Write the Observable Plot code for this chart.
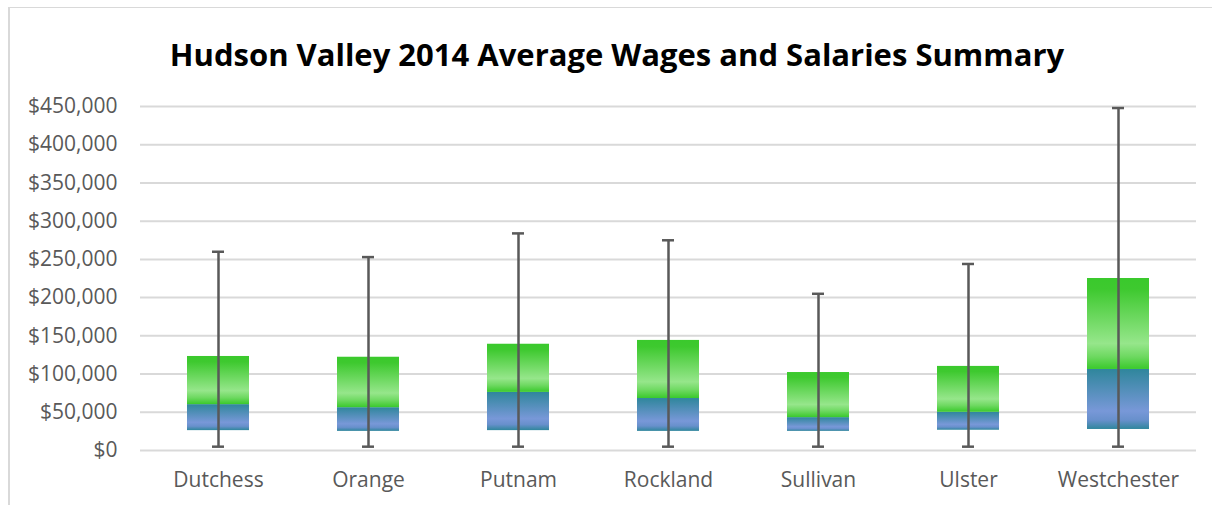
<!DOCTYPE html>
<html>
<head>
<meta charset="utf-8">
<script src="https://cdn.jsdelivr.net/npm/d3@7"></script>
<script src="https://cdn.jsdelivr.net/npm/@observablehq/plot@0.6"></script>
<style>
  html, body { margin: 0; padding: 0; background: #fff; }
  #wrap { position: relative; width: 1212px; height: 505px; overflow: hidden; }
  #border { position: absolute; left: 8px; top: 7px; width: 1300px; height: 600px;
            border-left: 2px solid #d9d9d9; border-top: 1px solid #d9d9d9; }
  #title { position: absolute; left: 0; top: 0; width: 1234px; height: 90px; line-height: 108px;
           text-align: center; font-family: "Open Sans", sans-serif; font-weight: 700; font-size: 31px; color: #000; }
  #chart { position: absolute; left: 0; top: 90px; }
</style>
</head>
<body>
<div id="wrap">
  <div id="border"></div>
  <div id="title">Hudson Valley 2014 Average Wages and Salaries Summary</div>
  <div id="chart"></div>
</div>
<script>
const counties = ["Dutchess", "Orange", "Putnam", "Rockland", "Sullivan", "Ulster", "Westchester"];
const minWage  = [5000, 5000, 5000, 5000, 5000, 5000, 5000];
const q1Wage   = [26000, 25000, 26000, 25000, 25000, 26500, 27500];
const medWage  = [60000, 56000, 76000, 68000, 43000, 50000, 106000];
const q3Wage   = [123000, 122000, 139000, 144000, 102000, 110000, 225000];
const maxWage  = [260000, 253000, 284000, 275000, 205000, 244000, 448000];
const yTicks   = [0, 50000, 100000, 150000, 200000, 250000, 300000, 350000, 400000, 450000];

const rows = counties.map((c, i) => ({
  county: c, min: minWage[i], q1: q1Wage[i], med: medWage[i], q3: q3Wage[i], max: maxWage[i]
}));

function gradientDefs() {
  const defs = d3.create("svg:defs");
  const g = defs.append("linearGradient").attr("id", "gGreen")
    .attr("x1", 0).attr("y1", 0).attr("x2", 0).attr("y2", 1);
  [[0, "#3ac92c"], [0.12, "#3ec92f"], [0.72, "#96e68b"], [0.86, "#6fd962"], [1, "#3ac92c"]]
    .forEach(([o, c]) => g.append("stop").attr("offset", o).attr("stop-color", c));
  const b = defs.append("linearGradient").attr("id", "gBlue")
    .attr("x1", 0).attr("y1", 0).attr("x2", 0).attr("y2", 1);
  [[0, "#2f869c"], [0.7, "#7898d8"], [0.85, "#6890cc"], [1, "#2f869c"]]
    .forEach(([o, c]) => b.append("stop").attr("offset", o).attr("stop-color", c));
  return defs.node();
}

const chart = Plot.plot({
  width: 1212,
  height: 415,
  marginTop: 16,
  marginBottom: 55,
  marginLeft: 140,
  marginRight: 16,
  style: { fontFamily: "Open Sans, sans-serif", fontSize: "21px", color: "#595959", background: "transparent" },
  x: { domain: counties, paddingInner: 0.59, paddingOuter: 0.295, label: null },
  y: { domain: [0, 450000], label: null },
  marks: [
    gradientDefs,
    Plot.gridY(yTicks, { stroke: "#d9d9d9", strokeOpacity: 1, strokeWidth: 2 }),
    Plot.axisY(yTicks, { tickSize: 0, tickPadding: 23, tickFormat: d => "$" + d3.format(",")(d), label: null }),
    Plot.axisX({ tickSize: 0, tickPadding: 22, label: null }),
    Plot.barY(rows, { x: "county", y1: "q1", y2: "med", fill: "url(#gBlue)" }),
    Plot.barY(rows, { x: "county", y1: "med", y2: "q3", fill: "url(#gGreen)" }),
    Plot.ruleX(rows, { x: "county", y1: "min", y2: "max", stroke: "#595959", strokeWidth: 2.5 }),
    Plot.tickY(rows, { x: "county", y: "min", stroke: "#595959", strokeWidth: 2.5, insetLeft: 25, insetRight: 25 }),
    Plot.tickY(rows, { x: "county", y: "max", stroke: "#595959", strokeWidth: 2.5, insetLeft: 25, insetRight: 25 })
  ]
});
document.getElementById("chart").appendChild(chart);
</script>
</body>
</html>
